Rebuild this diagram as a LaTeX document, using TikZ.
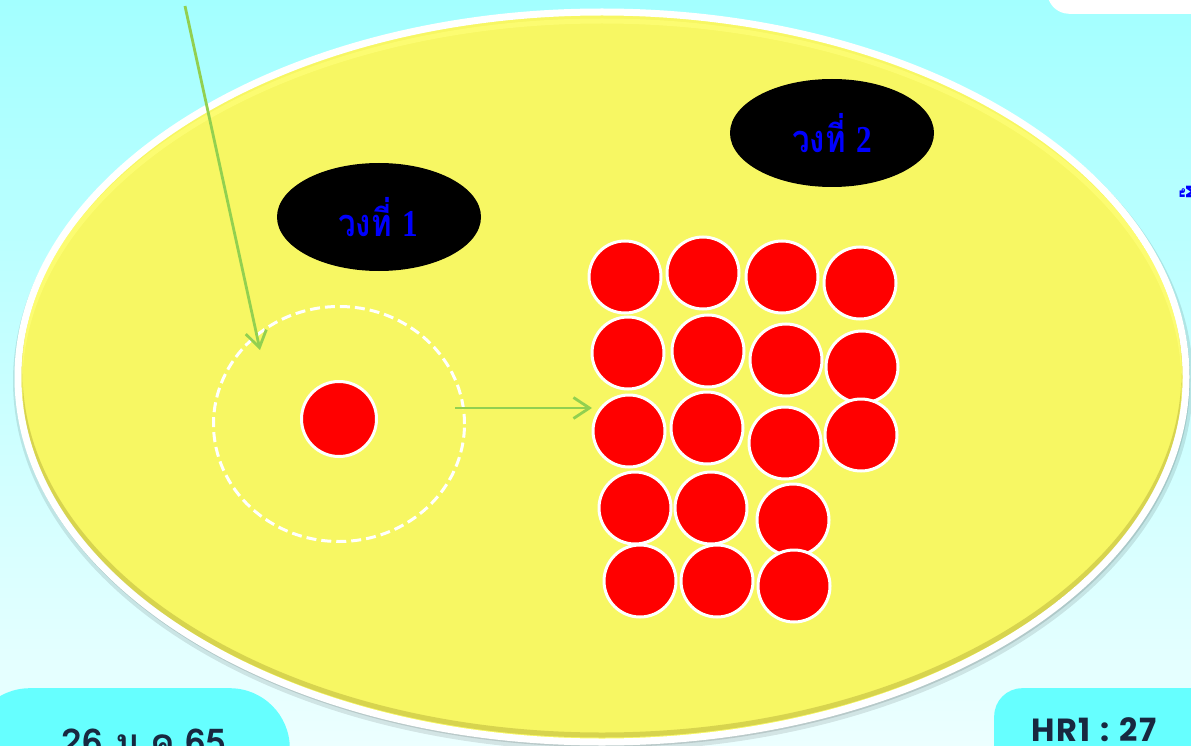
\documentclass[tikz,border=0pt]{standalone}
\usepackage{fontspec}
\newfontfamily\thaifont[Script=Thai]{Loma}
\newfontfamily\serifnum{Liberation Serif}
\newfontfamily\roundsans{Poppins}
\usetikzlibrary{arrows.meta,shapes.geometric}
\definecolor{bgtop}{HTML}{A3FFFF}
\definecolor{bgbot}{HTML}{ECFFFF}
\definecolor{sunyellow}{HTML}{F7F763}
\definecolor{rimdark}{HTML}{A8A030}
\definecolor{rimlight}{HTML}{FFFF78}
\definecolor{boxcyan}{HTML}{66FFFF}
\definecolor{navytext}{HTML}{182840}
\definecolor{arrowgreen}{HTML}{92D050}
\definecolor{labelblue}{HTML}{0000FF}
\begin{document}
\begin{tikzpicture}[x=1pt,y=-1pt,
  redball/.style={circle, fill=red, draw=white, line width=3pt, minimum size=72pt, inner sep=0pt},
  blackoval/.style={ellipse, fill=black, minimum width=204pt, minimum height=108pt, inner sep=0pt},
  ovallabel/.style={text=labelblue, xscale=0.82, font=\fontsize{38}{40}\selectfont\bfseries},
  greenarrow/.style={draw=arrowgreen, line width=2.8pt, -{Straight Barb[length=16pt,width=21pt]}},
  cornerbox/.style={fill=boxcyan, inner sep=0pt},
  cornertext/.style={text=navytext, anchor=base, inner sep=0pt}
]
\useasboundingbox (0,0) rectangle (1191,746);
\clip (0,0) rectangle (1191,746);
% background
\fill[top color=bgtop, bottom color=bgbot] (0,0) rectangle (1191,746);
% top-right white shape
\node[fill=white, rounded corners=22pt, minimum width=220pt, minimum height=60pt, anchor=south west, inner sep=0pt] (topcard) at (1047,14) {};
% corner boxes
\node[cornerbox, rounded corners=60pt, minimum width=320pt, minimum height=120pt, anchor=north east] (datebox) at (290,688) {};
\node[cornerbox, rounded corners=28pt, minimum width=240pt, minimum height=120pt, anchor=north west] (pagebox) at (994,688) {};
\node[cornertext] (datetext) at (144,755) {\thaifont\bfseries\fontsize{37}{39}\selectfont 26 ม.ค.65};
\node[cornertext] (pagetext) at (1094,741) {\roundsans\fontsize{32}{34}\selectfont\bfseries H\kern1.5pt R\kern1.5pt 1\hspace{10pt}:\hspace{10pt}2\kern1pt 7};
% big ellipse shadow
\fill[black, opacity=0.10] (603,381) ellipse [x radius=590, y radius=370];
\fill[black, opacity=0.12] (603,380) ellipse [x radius=587, y radius=367];
% big ellipse
\draw[white, line width=7pt, fill=sunyellow] (602,377) ellipse [x radius=584, y radius=365];
\begin{scope}
  \clip (602,377) ellipse [x radius=580.5, y radius=361.5];
  \draw[rimdark, opacity=0.4, line width=5pt] (602,372) ellipse [x radius=582, y radius=363];
  \draw[rimlight, opacity=0.7, line width=5pt] (602,384) ellipse [x radius=582, y radius=363];
\end{scope}
% black ovals
\node[blackoval] (ring1) at (379,217) {};
\node[ovallabel] (ring1label) at (378,217) {\thaifont วงที่ \serifnum 1};
\node[blackoval] (ring2) at (832,133) {};
\node[ovallabel] (ring2label) at (832,133) {\thaifont วงที่ \serifnum 2};
% single circle and dashed ring
\node[ellipse, draw=white, dash pattern=on 10pt off 5pt, line width=3pt, minimum width=251pt, minimum height=235pt, inner sep=0pt] (dashring) at (339,424) {};
\node[redball, minimum size=75pt] (seed) at (339,419) {};
% cluster
\node[redball] (b1) at (625,277) {};
\node[redball] (b2) at (703,273) {};
\node[redball] (b3) at (782,277) {};
\node[redball] (b4) at (860,283) {};
\node[redball] (b5) at (628,353) {};
\node[redball] (b6) at (708,351) {};
\node[redball] (b7) at (786,360) {};
\node[redball] (b8) at (862,367) {};
\node[redball] (b9) at (629,431) {};
\node[redball] (b10) at (707,428) {};
\node[redball] (b11) at (785,443) {};
\node[redball] (b12) at (861,435) {};
\node[redball] (b13) at (635,508) {};
\node[redball] (b14) at (711,508) {};
\node[redball] (b15) at (793,520) {};
\node[redball] (b16) at (640,581) {};
\node[redball] (b17) at (717,581) {};
\node[redball] (b18) at (794,586) {};
% arrows
\coordinate (arrowsrc) at (185,6);
\coordinate (arrowtip) at (260,350);
\draw[greenarrow] (arrowsrc) -- (arrowtip);
\coordinate (growstart) at (455,408);
\coordinate (growend) at (592,408);
\draw[greenarrow] (growstart) -- (growend);
% clipped vertical text at right edge
\node[text=labelblue, rotate=-90, font=\thaifont\fontsize{26}{28}\selectfont\bfseries] (sidetext) at (1194,192) {ผู้};
\end{tikzpicture}
\end{document}
